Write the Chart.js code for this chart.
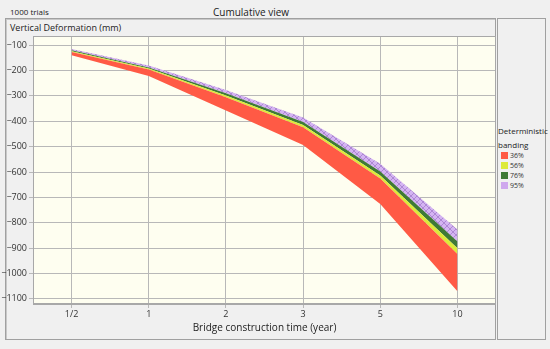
<!DOCTYPE html>
<html>
<head>
<meta charset="utf-8">
<script src="https://cdn.jsdelivr.net/npm/chart.js@4.4.0/dist/chart.umd.min.js"></script>
<style>
  body { margin: 0; background: #f0f0f0; font-family: "Open Sans", "Noto Sans", sans-serif; }
  #wrap { position: relative; width: 550px; height: 349px; overflow: hidden; }
  .txt { position: absolute; color: #222; white-space: nowrap; }
  #main { position: absolute; left: 5px; top: 18px; width: 489px; height: 320px; border: 1px solid #a0a0a0; box-shadow: inset 1px 1px 0 #c8c8c8; }
  #side { position: absolute; left: 497px; top: 18px; width: 47px; height: 320px; border: 1px solid #a0a0a0; }
  #chart { position: absolute; left: 0px; top: 19px; }
  .item { position: absolute; left: 501px; font-size: 7px; color: #333; }
  .sw { display: inline-block; width: 7px; height: 7px; vertical-align: -1px; margin-right: 2px; }
</style>
</head>
<body>
<div id="wrap">
  <div class="txt" style="left:10px;top:6px;font-size:8px;">1000 trials</div>
  <div class="txt" style="left:213px;top:5px;font-size:10px;">Cumulative view</div>
  <div id="main"></div>
  <div id="side"></div>
  <div class="txt" style="left:10px;top:21px;font-size:9px;">Vertical Deformation (mm)</div>
  <canvas id="chart" width="496" height="320"></canvas>
  <div class="txt" style="left:498px;top:125px;font-size:8px;">Deterministic</div>
  <div class="txt" style="left:498px;top:139px;font-size:8px;">banding</div>
  <div id="legend"></div>
</div>
<script>
const years = ['1/2', '1', '2', '3', '5', '10'];
const yTicks = [-100, -200, -300, -400, -500, -600, -700, -800, -900, -1000, -1100];
const redBottom = [-140, -222, -358, -493, -726, -1070];
const redTop = [-127, -196, -305, -424, -625, -923];
const yellowTop = [-124, -192, -298, -415, -614, -900];
const greenTop = [-120, -188, -290, -403, -598, -874];
const purpleTop = [-115, -180, -277, -385, -567, -826];
const bandNames = ['36%', '56%', '76%', '95%'];
const bandColors = ['#ff5a45', '#dcea3a', '#3f7a36', '#cfa8ee'];

function hatch() {
    const c = document.createElement('canvas');
    c.width = 6; c.height = 6;
    const g = c.getContext('2d');
    g.fillStyle = '#d4b4f2';
    g.fillRect(0, 0, 6, 6);
    g.strokeStyle = '#a47ccc';
    g.lineWidth = 0.8;
    g.beginPath();
    g.moveTo(0, 0); g.lineTo(6, 6);
    g.moveTo(6, 0); g.lineTo(0, 6);
    g.stroke();
    return document.getElementById('chart').getContext('2d').createPattern(c, 'repeat');
}

const pts = arr => arr.map((v, i) => ({ x: i, y: v }));

// legend
const legend = document.getElementById('legend');
bandNames.forEach((n, i) => {
    const d = document.createElement('div');
    d.className = 'item';
    d.style.top = (151 + i * 10) + 'px';
    d.innerHTML = `<span class="sw" style="background:${bandColors[i]}"></span>${n}`;
    legend.appendChild(d);
});

const areaBox = {
    id: 'areaBox',
    beforeDraw(chart) {
        const a = chart.chartArea, ctx = chart.ctx;
        ctx.save();
        ctx.fillStyle = '#fefef0';
        ctx.fillRect(a.left, a.top, a.right - a.left, a.bottom - a.top);
        ctx.restore();
    },
    afterDraw(chart) {
        const a = chart.chartArea, ctx = chart.ctx;
        ctx.save();
        ctx.strokeStyle = '#a8a8a8';
        ctx.lineWidth = 1;
        ctx.strokeRect(a.left + 0.5, a.top + 0.5, a.right - a.left - 1, a.bottom - a.top - 1);
        ctx.restore();
    }
};

const band = (arr, color) => ({
    data: pts(arr), fill: '-1', backgroundColor: color,
    borderWidth: 0, pointRadius: 0, tension: 0
});

new Chart(document.getElementById('chart'), {
    type: 'line',
    data: {
        datasets: [
            { data: pts(redBottom), fill: false, borderWidth: 0, pointRadius: 0 },
            band(redTop, bandColors[0]),
            band(yellowTop, bandColors[1]),
            band(greenTop, bandColors[2]),
            band(purpleTop, hatch())
        ]
    },
    options: {
        responsive: false,
        animation: false,
        layout: { padding: { top: 17, right: 0, left: 0, bottom: 5 } },
        plugins: { legend: { display: false }, tooltip: { enabled: false } },
        scales: {
            x: {
                type: 'linear', min: -0.5, max: 5.5,
                afterBuildTicks: s => { s.ticks = years.map((_, i) => ({ value: i })); },
                ticks: { callback: v => years[v], color: '#333', font: { size: 9, family: 'Open Sans' }, padding: 1, maxRotation: 0, autoSkip: false },
                grid: { color: '#b8b8b8', tickLength: 4 },
                border: { color: '#a8a8a8' },
                title: { display: true, text: 'Bridge construction time (year)', color: '#222', font: { size: 10, family: 'Open Sans' }, padding: { top: 1, bottom: 0 } },
                afterFit: s => { s.height = 30; }
            },
            y: {
                min: -1120, max: -64,
                afterBuildTicks: s => { s.ticks = yTicks.map(v => ({ value: v })); },
                ticks: { callback: v => '\u2212' + Math.abs(v), color: '#333', font: { size: 9, family: 'Open Sans' }, padding: 2, autoSkip: false },
                grid: { color: '#b8b8b8', tickLength: 4 },
                border: { color: '#a8a8a8' },
                afterFit: s => { s.width = 33; }
            }
        }
    },
    plugins: [areaBox]
});
</script>
</body>
</html>
